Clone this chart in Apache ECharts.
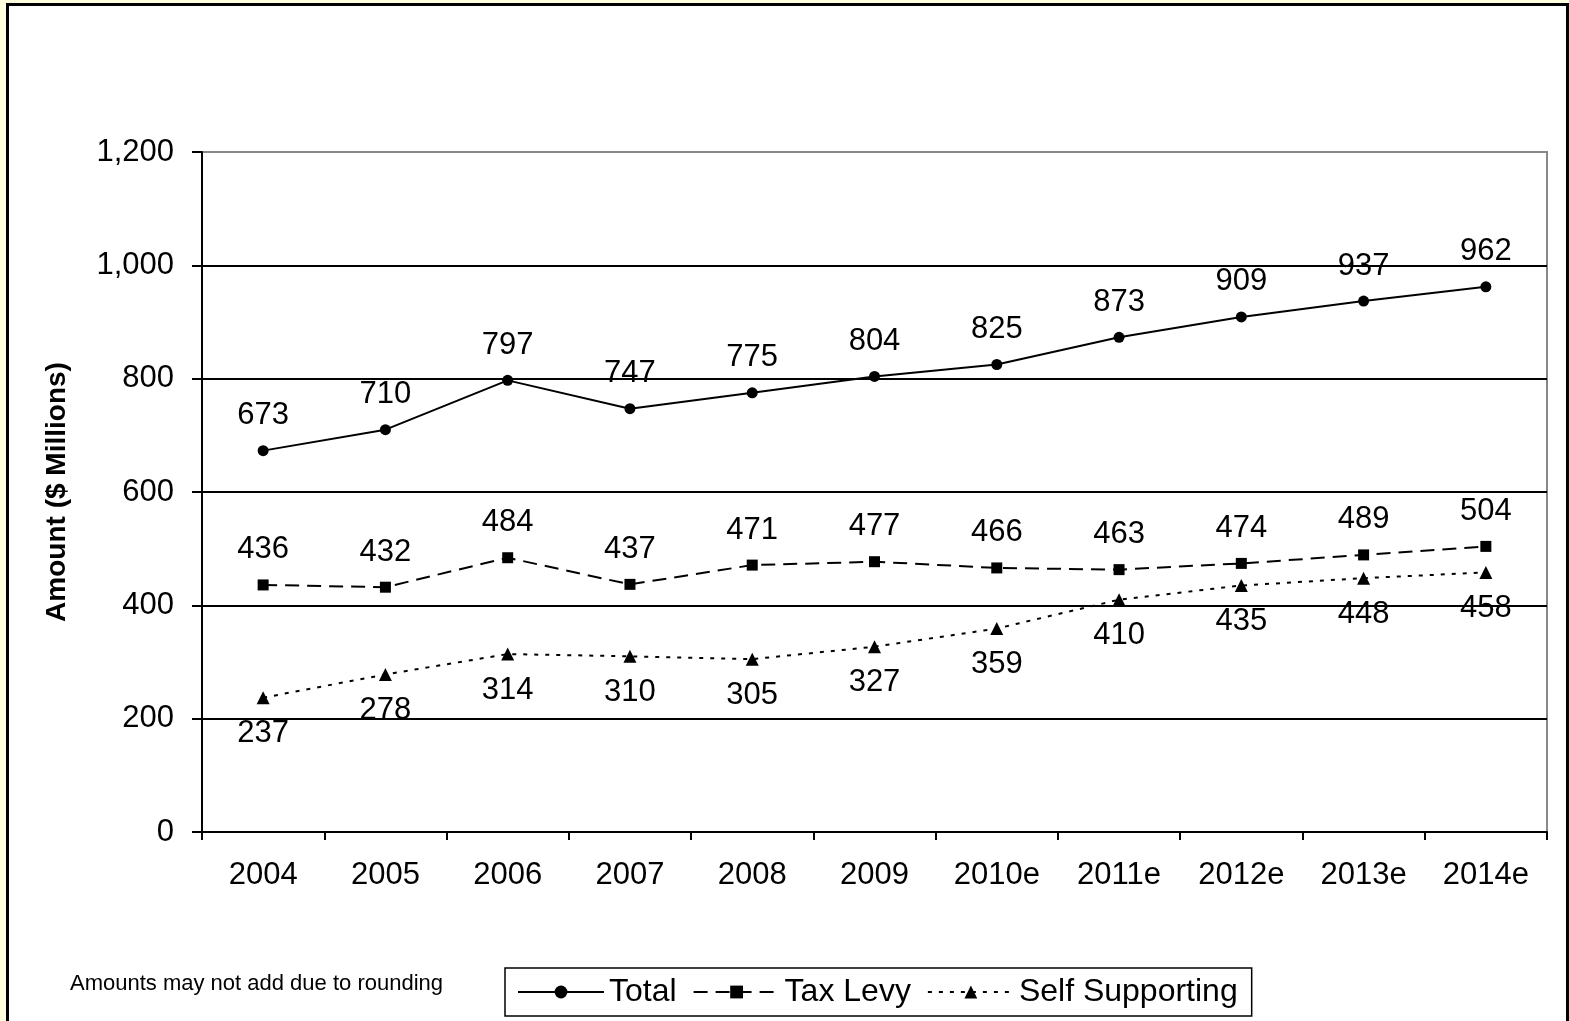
<!DOCTYPE html>
<html>
<head>
<meta charset="utf-8">
<script src="https://cdn.jsdelivr.net/npm/echarts@6/dist/echarts.min.js"></script>
<style>
  html, body { margin: 0; padding: 0; background: #FFFFE0; }
  #chart { width: 1569px; height: 1021px; }
</style>
</head>
<body>
<div id="chart"></div>
<script>
const categories = ['2004', '2005', '2006', '2007', '2008', '2009', '2010e', '2011e', '2012e', '2013e', '2014e'];
const totalValues = [673, 710, 797, 747, 775, 804, 825, 873, 909, 937, 962];
const taxLevyValues = [436, 432, 484, 437, 471, 477, 466, 463, 474, 489, 504];
const selfSupportingValues = [237, 278, 314, 310, 305, 327, 359, 410, 435, 448, 458];
const seriesNames = ['Total', 'Tax Levy', 'Self Supporting'];
const yAxisTitle = 'Amount ($ Millions)';
const footnote = 'Amounts may not add due to rounding';

const FONT = '"Liberation Sans", Arial, sans-serif';
const chart = echarts.init(document.getElementById('chart'), null, { renderer: 'canvas' });

function labelCfg(pos) {
  return {
    show: true,
    position: pos,
    distance: 14,
    color: '#000',
    fontFamily: FONT,
    fontSize: 31
  };
}

chart.setOption({
  backgroundColor: '#FFFFE0',
  animation: false,
  textStyle: { fontFamily: FONT, color: '#000' },
  graphic: [
    {
      type: 'rect',
      z: -10,
      shape: { x: 7.5, y: 4.5, width: 1560, height: 1040 },
      style: { fill: '#fff', stroke: '#000', lineWidth: 3 }
    },
    {
      type: 'text',
      left: 70,
      top: 973,
      style: { text: footnote, font: '22px ' + FONT, fill: '#000' }
    }
  ],
  grid: {
    left: 202, right: 22, top: 152, bottom: 189,
    show: true, borderColor: '#888', borderWidth: 2, backgroundColor: 'transparent'
  },
  legend: {
    left: 505, top: 968,
    padding: [8, 14, 8, 12],
    borderColor: '#000', borderWidth: 1.5,
    itemWidth: 86, itemHeight: 16, itemGap: 16,
    textStyle: { fontFamily: FONT, fontSize: 32, color: '#000' },
    data: seriesNames
  },
  xAxis: {
    type: 'category',
    data: categories,
    boundaryGap: true,
    axisLine: { lineStyle: { color: '#000', width: 2 } },
    axisTick: { show: true, length: 8, lineStyle: { color: '#000', width: 2 } },
    axisLabel: { color: '#000', fontFamily: FONT, fontSize: 31, margin: 28 },
    splitLine: { show: false }
  },
  yAxis: {
    type: 'value',
    min: 0, max: 1200, interval: 200,
    name: yAxisTitle,
    nameLocation: 'middle',
    nameGap: 131,
    nameRotate: 90,
    nameTextStyle: { fontFamily: FONT, fontSize: 28, fontWeight: 'bold', color: '#000' },
    axisLine: { show: true, lineStyle: { color: '#000', width: 2 } },
    axisTick: { show: true, length: 10, lineStyle: { color: '#000', width: 2 } },
    axisLabel: {
      color: '#000', fontFamily: FONT, fontSize: 31, margin: 28,
      padding: [8, 0, 0, 0],
      formatter: v => v.toLocaleString('en-US')
    },
    splitLine: {
      show: true,
      lineStyle: { color: ['#000', '#000', '#000', '#000', '#000', '#000', '#888'], width: 2 }
    }
  },
  series: [
    {
      name: seriesNames[0], type: 'line', data: totalValues,
      symbol: 'circle', symbolSize: 11,
      lineStyle: { color: '#000', width: 2, type: 'solid' },
      itemStyle: { color: '#000' },
      label: labelCfg('top'), z: 5
    },
    {
      name: seriesNames[1], type: 'line', data: taxLevyValues,
      symbol: 'rect', symbolSize: 11,
      lineStyle: { color: '#000', width: 2, type: [14, 8] },
      itemStyle: { color: '#000' },
      label: labelCfg('top'), z: 4
    },
    {
      name: seriesNames[2], type: 'line', data: selfSupportingValues,
      symbol: 'triangle', symbolSize: 13,
      lineStyle: { color: '#000', width: 2, type: [4, 7] },
      itemStyle: { color: '#000' },
      label: labelCfg('bottom'), z: 3
    }
  ]
});
</script>
</body>
</html>
